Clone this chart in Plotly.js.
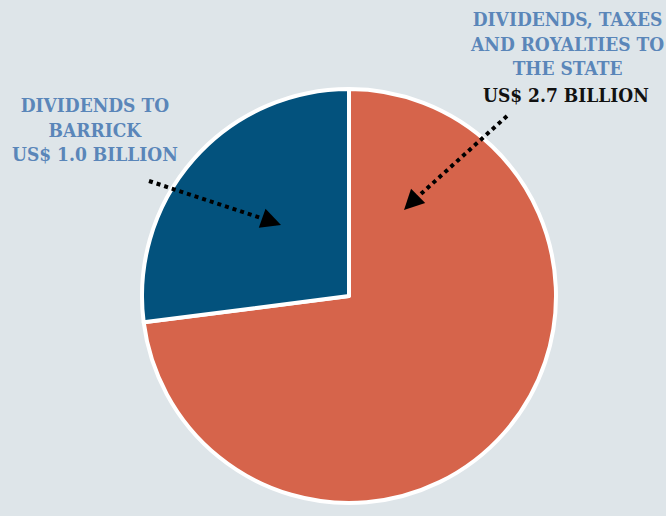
<!DOCTYPE html>
<html>
<head>
<meta charset="utf-8">
<script src="https://cdn.plot.ly/plotly-3.0.1.min.js"></script>
<style>html,body{margin:0;padding:0;background:#DEE5E9;}#chart{width:666px;height:516px;}</style>
</head>
<body>
<div id="chart"></div>
<script>
// Data
var categories = ["Dividends, taxes and royalties to the State", "Dividends to Barrick"];
var valuesBillion = [2.7, 1.0];
var sliceColors = ["#D6644B", "#03527D"];
var labelLeft = "DIVIDENDS TO<br>BARRICK<br>US$ 1.0 BILLION";
var labelRightTitle = "DIVIDENDS, TAXES<br>AND ROYALTIES TO<br>THE STATE";
var labelRightValue = "US$ 2.7 BILLION";

var W = 666, H = 516;
function px(x){ return x / W; }
function py(y){ return 1 - y / H; }

var font = "'DejaVu Serif Condensed', 'DejaVu Serif', serif";
var blueText = "#5A86B9";

var trace = {
  type: "pie",
  labels: categories,
  values: valuesBillion,
  sort: false,
  direction: "clockwise",
  rotation: 0,
  marker: { colors: sliceColors, line: { color: "#FFFFFF", width: 4 } },
  textinfo: "none",
  hoverinfo: "none",
  showlegend: false,
  domain: { x: [px(142), px(556)], y: [py(503), py(89)] }
};

var layout = {
  width: W, height: H,
  margin: { l: 0, r: 0, t: 0, b: 0 },
  paper_bgcolor: "#DEE5E9",
  plot_bgcolor: "#DEE5E9",
  showlegend: false,
  shapes: [
    { type: "line", xref: "paper", yref: "paper", x0: px(149), y0: py(181), x1: px(270), y1: py(221),
      line: { color: "#000000", width: 4, dash: "dot" } },
    { type: "line", xref: "paper", yref: "paper", x0: px(507), y0: py(116), x1: px(412), y1: py(202),
      line: { color: "#000000", width: 4, dash: "dot" } }
  ],
  annotations: [
    { xref: "paper", yref: "paper", x: px(95), y: py(92), xanchor: "center", yanchor: "top",
      text: labelLeft, showarrow: false, align: "center",
      font: { family: font, size: 19, color: blueText, weight: "bold" } },
    { xref: "paper", yref: "paper", x: px(567), y: py(6), xanchor: "center", yanchor: "top",
      text: labelRightTitle, showarrow: false, align: "center",
      font: { family: font, size: 19, color: blueText, weight: "bold" } },
    { xref: "paper", yref: "paper", x: px(566), y: py(82), xanchor: "center", yanchor: "top",
      text: labelRightValue, showarrow: false, align: "center",
      font: { family: font, size: 19, color: "#111111", weight: "bold" } },
    { xref: "paper", yref: "paper", x: px(281), y: py(225), ax: -14, ay: -5, text: "",
      showarrow: true, arrowhead: 2, arrowsize: 1, arrowwidth: 4, arrowcolor: "#000000" },
    { xref: "paper", yref: "paper", x: px(404), y: py(210), ax: 10, ay: -10, text: "",
      showarrow: true, arrowhead: 2, arrowsize: 1, arrowwidth: 4, arrowcolor: "#000000" }
  ]
};

Plotly.newPlot("chart", [trace], layout, { displayModeBar: false, staticPlot: true });
</script>
</body>
</html>
